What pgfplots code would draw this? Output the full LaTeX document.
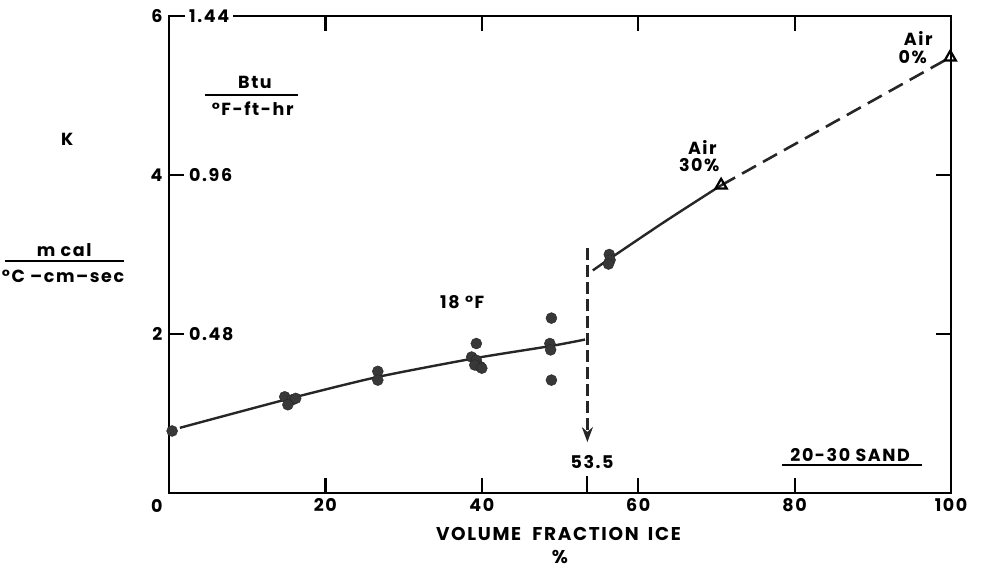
\documentclass[border=0pt]{standalone}
\usepackage{fontspec}
\setmainfont{Poppins}[LetterSpace=9]
\usepackage{pgfplots}
\usepackage{pgfplotstable}
\pgfplotsset{compat=1.18}
\usetikzlibrary{arrows.meta}

% measured points, 18 F
\pgfplotstableread{
x y
0.4 0.78
14.8 1.21
15.7 1.17
15.2 1.11
16.2 1.19
26.7 1.53
26.7 1.42
39.3 1.88
38.7 1.71
39.3 1.67
39.8 1.59
39.1 1.61
40.0 1.57
48.9 2.20
48.7 1.88
48.8 1.80
48.9 1.42
56.3 3.00
56.4 2.93
56.2 2.88
}\tabpts

\pgfplotstableread{
x y
70.6 3.87
99.9 5.48
}\tabair

\pgfplotstableread{
x y
1.4 0.82
15.5 1.19
26.7 1.46
39.4 1.70
48.9 1.85
53.2 1.93
}\tablo

\pgfplotstableread{
x y
54.2 2.80
56.4 2.95
63.5 3.42
70.6 3.87
}\tabhi

\pgfplotstableread{
x y
70.6 3.87
99.9 5.48
}\tabext

\pgfplotstableread{
x y
53.5 3.08
53.5 0.64
}\tabmelt

\newcommand{\lab}{\fontsize{17.5}{19}\selectfont\bfseries}

\begin{document}
\begin{tikzpicture}
\begin{axis}[
  scale only axis, width=782pt, height=477pt,
  xmin=0, xmax=100, ymin=0, ymax=6,
  axis line style={line width=2.2pt},
  tick style={line width=2.2pt, black},
  tick align=inside, major tick length=15pt,
  xtick={0,20,40,60,80,100}, xticklabels={,20,40,60,80,100},
  ytick={2,4,6}, yticklabels={2,4,6},
  tick label style={font=\lab},
  xticklabel style={yshift=-2pt},
  yticklabel style={xshift=-3pt},
  /pgf/number format/assume math mode=true,
  clip=false,
]
\path (axis description cs:-0.2161,-0.1635) rectangle (axis description cs:1.0396,1.0335);

\addplot[black!85, line width=2.4pt, smooth, tension=0.4] table {\tablo};
\addplot[black!85, line width=2.4pt, smooth, tension=0.5] table {\tabhi};
\addplot[black!85, line width=2.6pt, dash pattern=on 16pt off 8pt] table {\tabext};
\addplot[black!85, line width=2.6pt, dash pattern=on 12pt off 5pt,
  -{Stealth[length=15pt,width=11pt]}] table {\tabmelt};
\addplot[only marks, mark=*, mark size=5.5pt, draw=black!85, fill=black!78] table {\tabpts};
\addplot[only marks, mark=triangle, mark size=6.5pt,
  mark options={line width=2.2pt, fill=white, draw=black, solid}] table {\tabair};

\draw[line width=2.2pt] (axis cs:53.5,0) -- ++(0,17pt);

\coordinate (tl) at (axis cs:0,6);
\coordinate (l4) at (axis cs:0,4);
\coordinate (l2) at (axis cs:0,2);

\begin{scope}[every node/.style={font=\lab, inner sep=0pt}]
\node at (axis cs:-1.55,-0.16) {0};
\node at (axis cs:54.1,0.39) {53.5};
\node at (axis cs:37.5,2.40) {18 °F};
\node at (axis cs:68.2,4.35) {Air};
\node at (axis cs:67.8,4.13) {30\%};
\node at (axis cs:95.8,5.72) {Air};
\node at (axis cs:95.1,5.48) {0\%};
\node at (axis cs:87.1,0.48) {20-30 SAND};
\draw[line width=2.4pt] (axis cs:78.4,0.35) -- (axis cs:96.3,0.35);
\node at (axis cs:-13.0,4.45) {K};
\node at (axis cs:11.0,5.17) {Btu};
\draw[line width=2.2pt] (axis cs:4.6,5.01) -- (axis cs:16.5,5.01);
\node at (axis cs:10.7,4.84) {°F-ft-hr};
\node at (axis cs:-13.4,3.06) {m cal};
\draw[line width=2.2pt] (axis cs:-20.97,2.92) -- (axis cs:-5.75,2.92);
\node at (axis cs:-13.55,2.72) {°C –cm–sec};
\node[font=\fontsize{18.5}{20}\selectfont\bfseries] at (axis cs:49.8,-0.52) {VOLUME\hspace{0.6em}FRACTION\hspace{0.5em}ICE};
\node[font=\fontsize{18.5}{20}\selectfont\bfseries] at (axis cs:50.0,-0.80) {\%};
\end{scope}
\end{axis}
\begin{scope}[every node/.style={font=\lab, inner ysep=1pt, inner xsep=4pt, anchor=west, fill=white}]
\node at ([xshift=16pt]tl) {1.44};
\node at ([xshift=16pt]l4) {0.96};
\node at ([xshift=16pt]l2) {0.48};
\end{scope}
\end{tikzpicture}
\end{document}
